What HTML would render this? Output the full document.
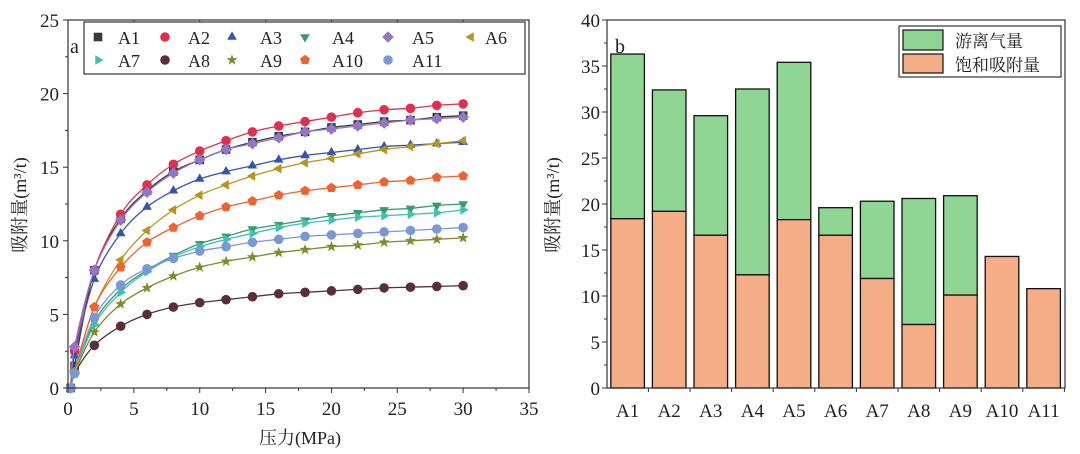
<!DOCTYPE html>
<html><head><meta charset="utf-8"><style>
html,body{margin:0;padding:0;background:#fff;width:1080px;height:454px;overflow:hidden}
svg{display:block}
text{font-family:"Liberation Serif","Noto Serif CJK SC",serif;fill:#222}
</style></head><body>
<svg id="svg" width="1080" height="454"></svg>
<script>
const pressures=[0.2,0.5,2,4,6,8,10,12,14,16,18,20,22,24,26,28,30];
const seriesNames=["A1","A2","A3","A4","A5","A6","A7","A8","A9","A10","A11"];
const sA1=[0,1.5,8,11.5,13.4,14.7,15.5,16.2,16.7,17.1,17.4,17.7,17.9,18.1,18.2,18.4,18.5];
const sA2=[0,2.5,8,11.8,13.8,15.2,16.1,16.8,17.4,17.8,18.1,18.4,18.7,18.9,19.0,19.2,19.3];
const sA3=[0,2.2,7.4,10.5,12.3,13.4,14.2,14.7,15.1,15.5,15.8,16.0,16.2,16.4,16.5,16.6,16.7];
const sA4=[0,1,4.5,6.7,8.0,9.0,9.8,10.3,10.8,11.1,11.4,11.7,11.9,12.1,12.2,12.4,12.5];
const sA5=[0,2.8,8,11.4,13.3,14.6,15.5,16.2,16.6,17.0,17.4,17.6,17.8,18.0,18.2,18.3,18.4];
const sA6=[0,1.2,5.5,8.7,10.7,12.1,13.1,13.8,14.4,14.9,15.3,15.6,15.9,16.2,16.4,16.6,16.8];
const sA7=[0,1,4.3,6.5,7.9,8.9,9.6,10.1,10.5,10.9,11.2,11.4,11.6,11.7,11.8,11.9,12.1];
const sA8=[0,1,2.9,4.2,5.0,5.5,5.8,6.0,6.2,6.4,6.5,6.6,6.7,6.8,6.85,6.9,6.95];
const sA9=[0,1,3.8,5.7,6.8,7.6,8.2,8.6,8.9,9.2,9.4,9.6,9.7,9.9,10.0,10.1,10.2];
const sA10=[0,1,5.5,8.2,9.9,10.9,11.7,12.3,12.7,13.1,13.4,13.6,13.8,14.0,14.1,14.3,14.4];
const sA11=[0,1,4.8,7.0,8.1,8.8,9.3,9.6,9.9,10.1,10.3,10.4,10.5,10.6,10.7,10.8,10.9];
const xTicksA=[0,5,10,15,20,25,30,35];
const yTicksA=[0,5,10,15,20,25];
const barCats=["A1","A2","A3","A4","A5","A6","A7","A8","A9","A10","A11"];
const satAds=[18.4,19.2,16.6,12.3,18.3,16.6,11.9,6.9,10.1,14.3,10.8];
const totalGas=[36.3,32.4,29.6,32.5,35.4,19.6,20.3,20.6,20.9,14.3,10.8];
const yTicksB=[0,5,10,15,20,25,30,35,40];

const NS="http://www.w3.org/2000/svg";
const svg=document.getElementById('svg');
function mk(tag,attrs,parent){const e=document.createElementNS(NS,tag);for(const k in attrs)e.setAttribute(k,attrs[k]);(parent||svg).appendChild(e);return e;}
function txt(s,attrs,parent){const e=mk('text',attrs,parent);e.textContent=s;return e;}

// ---------- chart a ----------
const AX0=68,AX1=529,AY0=388,AY1=20;
const xa=v=>AX0+(v/35)*(AX1-AX0);
const ya=v=>AY0-(v/25)*(AY0-AY1);
const gA=mk('g',{});


const colors=["#3a3a3a","#e0304f","#3355b0","#3a9a6a","#9575c8","#b8951c","#3fc2b2","#5a3038","#7f8c2a","#f26230","#7a98d6"];
const shapes=["square","circle","tri-up","tri-down","diamond","tri-left","tri-right","circle","star","pentagon","circle"];
const data=[sA1,sA2,sA3,sA4,sA5,sA6,sA7,sA8,sA9,sA10,sA11];
function marker(shape,cx,cy,r,col,parent){
  let e;
  if(shape==="square")e=mk('rect',{x:cx-r,y:cy-r,width:2*r,height:2*r,fill:col},parent);
  else if(shape==="circle")e=mk('circle',{cx,cy,r:r+0.5,fill:col},parent);
  else{
    let pts=[];
    const poly=(n,rot,rr)=>{for(let i=0;i<n;i++){const a=rot+i*2*Math.PI/n;pts.push([cx+rr*Math.cos(a),cy+rr*Math.sin(a)]);}};
    if(shape==="tri-up")poly(3,-Math.PI/2,r*1.3);
    if(shape==="tri-down")poly(3,Math.PI/2,r*1.3);
    if(shape==="tri-left")poly(3,Math.PI,r*1.3);
    if(shape==="tri-right")poly(3,0,r*1.3);
    if(shape==="diamond")poly(4,-Math.PI/2,r*1.35);
    if(shape==="pentagon")poly(5,-Math.PI/2,r*1.2);
    if(shape==="star"){for(let i=0;i<10;i++){const a=-Math.PI/2+i*Math.PI/5,rr=i%2?r*0.55:r*1.35;pts.push([cx+rr*Math.cos(a),cy+rr*Math.sin(a)]);}}
    e=mk('polygon',{points:pts.map(p=>p.join(',')).join(' '),fill:col},parent);
  }
  return e;
}
function smooth(pts){
  let d=`M${pts[0][0]},${pts[0][1]}`;
  for(let i=0;i<pts.length-1;i++){
    const p0=pts[Math.max(0,i-1)],p1=pts[i],p2=pts[i+1],p3=pts[Math.min(pts.length-1,i+2)];
    const c1=[p1[0]+(p2[0]-p0[0])/6,p1[1]+(p2[1]-p0[1])/6],c2=[p2[0]-(p3[0]-p1[0])/6,p2[1]-(p3[1]-p1[1])/6];
    d+=` C${c1[0]},${c1[1]} ${c2[0]},${c2[1]} ${p2[0]},${p2[1]}`;
  }
  return d;
}
data.forEach((s,si)=>{
  const g=mk('g',{},gA);
  
  
  const pts=s.map((v,i)=>[xa(pressures[i]),ya(v)]);
  mk('path',{d:smooth(pts),fill:'none',stroke:colors[si],'stroke-width':1.3},g);
  pts.forEach(p=>{const m=marker(shapes[si],p[0],p[1],4.3,colors[si],g);
    
    });
});
// axes frame
mk('rect',{x:AX0,y:AY1,width:AX1-AX0,height:AY0-AY1,fill:'none',stroke:'#333','stroke-width':1.2},gA);
xTicksA.forEach(v=>{mk('line',{x1:xa(v),x2:xa(v),y1:AY0,y2:AY0+5,stroke:'#333'},gA);
  mk('line',{x1:xa(v),x2:xa(v),y1:AY1,y2:AY1+4,stroke:'#333'},gA);
  if(v<35){mk('line',{x1:xa(v+2.5),x2:xa(v+2.5),y1:AY0,y2:AY0+3,stroke:'#333'},gA);}
  txt(String(v),{x:xa(v),y:AY0+27,'text-anchor':'middle','font-size':19},gA);});
yTicksA.forEach(v=>{mk('line',{x1:AX0-5,x2:AX0,y1:ya(v),y2:ya(v),stroke:'#333'},gA);
  if(v<25)mk('line',{x1:AX0-3,x2:AX0,y1:ya(v+2.5),y2:ya(v+2.5),stroke:'#333'},gA);
  txt(String(v),{x:AX0-9,y:ya(v)+7,'text-anchor':'end','font-size':19},gA);});
const xl=txt('压力(MPa)',{x:300,y:444,'text-anchor':'middle','font-size':18},gA);

const yl=txt('吸附量(m³/t)',{x:0,y:0,'text-anchor':'middle','font-size':18,transform:'translate(26,205) rotate(-90)'},gA);

const la=txt('a',{x:70,y:53,'font-size':20},gA);

// legend a
const lg=mk('g',{},gA);

mk('rect',{x:84,y:22,width:441,height:52,fill:'#fff',stroke:'#333','stroke-width':1.2},lg);
const lcols=[[98,118],[165,188],[232,260],[305,332],[388,412],[471,485]];
seriesNames.forEach((n,i)=>{
  const row=i<6?0:1,col=i<6?i:i-6;
  const cy=row?60:37;
  const e=mk('g',{},lg);
  
  
  marker(shapes[i],lcols[col][0],cy,4.3,colors[i],e);
  txt(n,{x:lcols[col][1],y:cy+7,'font-size':18},e);
});

// ---------- chart b ----------
const BX0=607,BX1=1065,BY0=388,BY1=20;
const yb=v=>BY0-(v/40)*(BY0-BY1);
const step=41.6,bw=33.6;
const xb=i=>627.6+i*step;
const gB=mk('g',{});


barCats.forEach((c,i)=>{
  const g=mk('g',{},gB);
  
  
  if(totalGas[i]>satAds[i]){
    const r=mk('rect',{x:xb(i)-bw/2,y:yb(totalGas[i]),width:bw,height:yb(satAds[i])-yb(totalGas[i]),fill:'#8fd694',stroke:'#111','stroke-width':1.3},g);
    
  }
  const r2=mk('rect',{x:xb(i)-bw/2,y:yb(satAds[i]),width:bw,height:BY0-yb(satAds[i]),fill:'#f4ad84',stroke:'#111','stroke-width':1.3},g);
  
  txt(c,{x:xb(i),y:BY0+29,'text-anchor':'middle','font-size':19},gB);
  mk('line',{x1:xb(i)+step/2,x2:xb(i)+step/2,y1:BY0,y2:BY0+4,stroke:'#333'},gB);
});
mk('rect',{x:BX0,y:BY1,width:BX1-BX0,height:BY0-BY1,fill:'none',stroke:'#333','stroke-width':1.2},gB);
yTicksB.forEach(v=>{mk('line',{x1:BX0-5,x2:BX0,y1:yb(v),y2:yb(v),stroke:'#333'},gB);
  if(v<40)mk('line',{x1:BX0-3,x2:BX0,y1:yb(v+2.5),y2:yb(v+2.5),stroke:'#333'},gB);
  txt(String(v),{x:BX0-7,y:yb(v)+7,'text-anchor':'end','font-size':19},gB);});
const yl2=txt('吸附量(m³/t)',{x:0,y:0,'text-anchor':'middle','font-size':18,transform:'translate(559,205) rotate(-90)'},gB);

const lb=txt('b',{x:615,y:53,'font-size':20},gB);

const lg2=mk('g',{},gB);

mk('rect',{x:899,y:26,width:162,height:51,fill:'#fff',stroke:'#333','stroke-width':1.2},lg2);
mk('rect',{x:903,y:30,width:40,height:20,fill:'#8fd694',stroke:'#111','stroke-width':1.2},lg2);
mk('rect',{x:903,y:54,width:40,height:19,fill:'#f4ad84',stroke:'#111','stroke-width':1.2},lg2);
txt('游离气量',{x:955,y:47,'font-size':17},lg2);
txt('饱和吸附量',{x:955,y:71,'font-size':17},lg2);
</script>
</body></html>
